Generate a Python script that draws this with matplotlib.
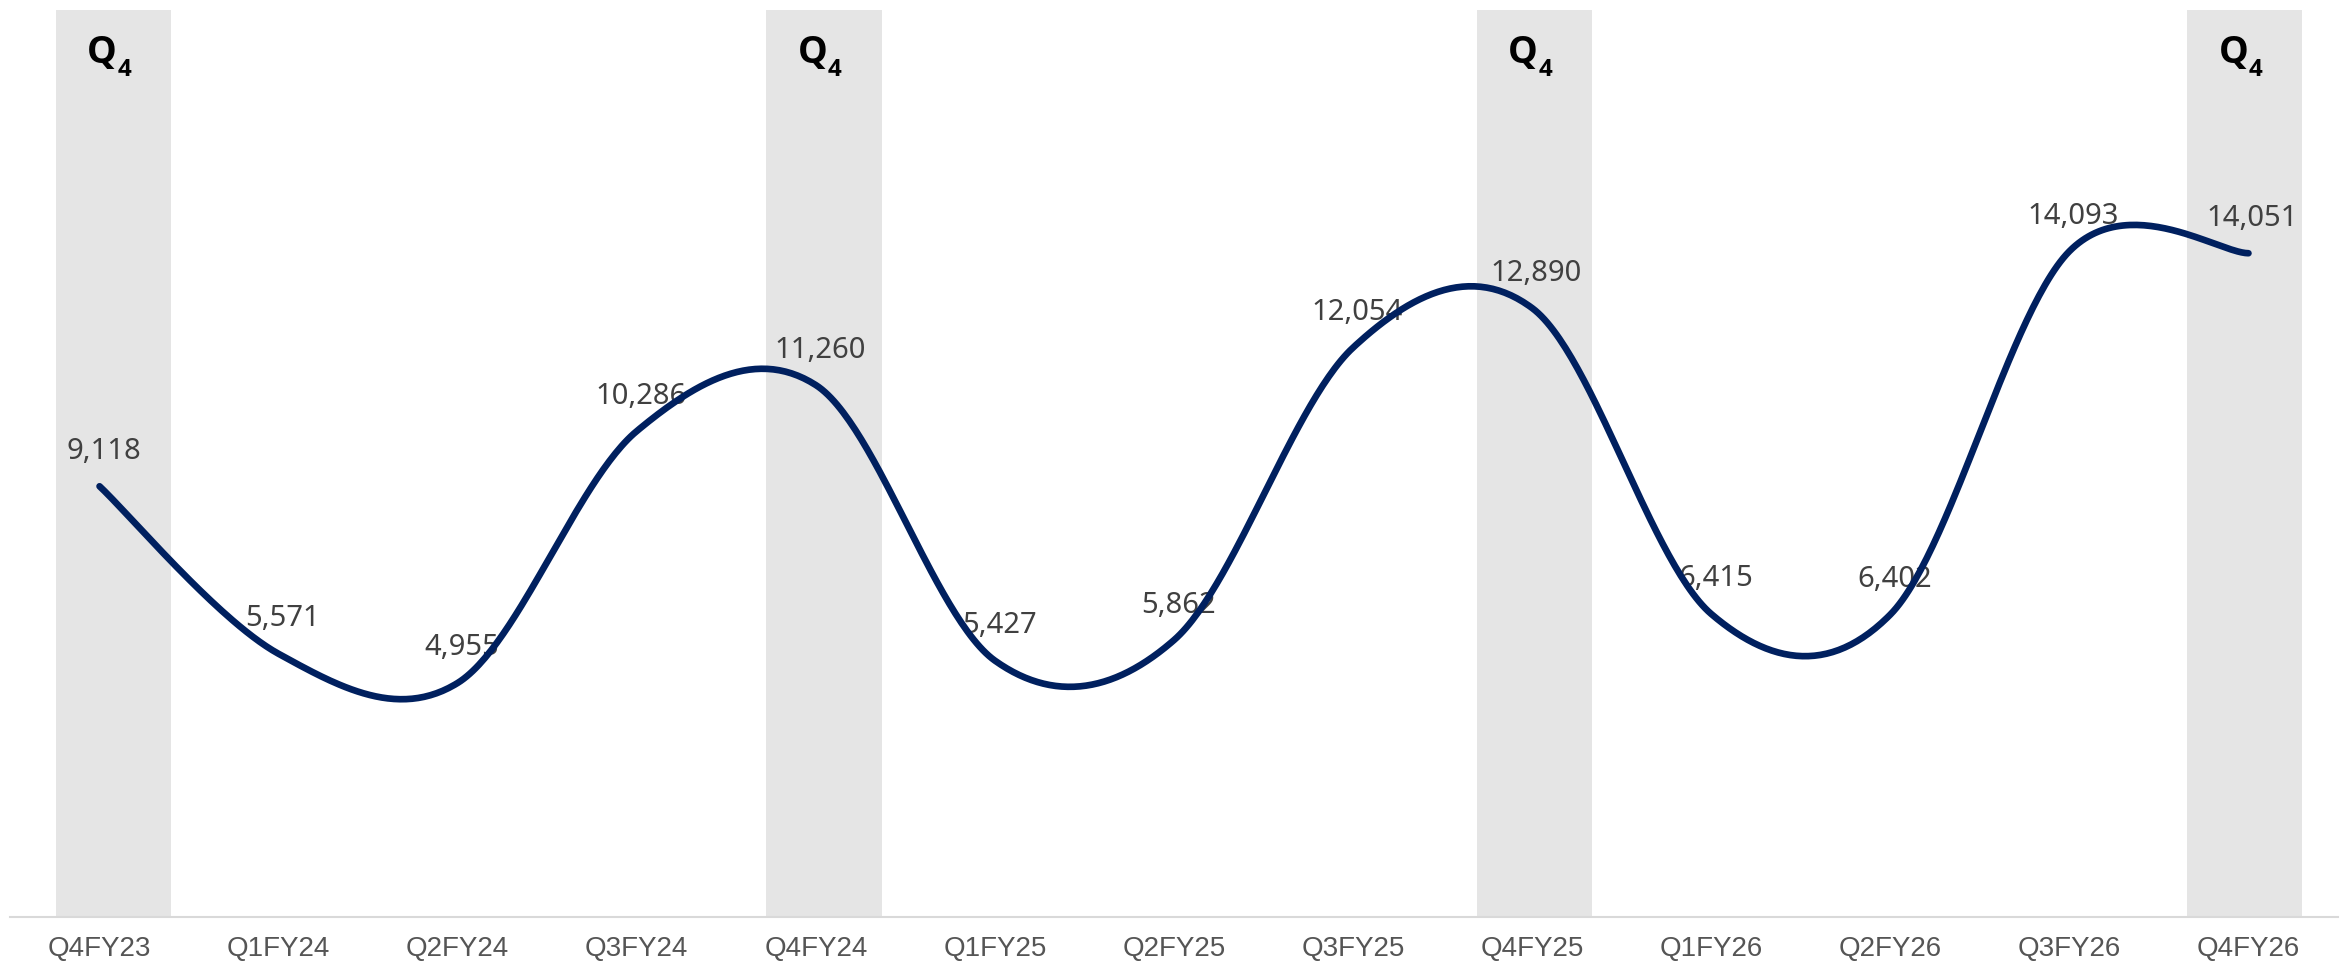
import numpy as np
import matplotlib
matplotlib.use('Agg')
import matplotlib.pyplot as plt
from matplotlib import font_manager

# ---------------- data ----------------
categories = ['Q4FY23', 'Q1FY24', 'Q2FY24', 'Q3FY24', 'Q4FY24', 'Q1FY25', 'Q2FY25',
              'Q3FY25', 'Q4FY25', 'Q1FY26', 'Q2FY26', 'Q3FY26', 'Q4FY26']
values = [9118, 5571, 4955, 10286, 11260, 5427, 5862, 12054, 12890, 6415, 6402, 14093, 14051]
q4_band = [1, 0, 0, 0, 1, 0, 0, 0, 1, 0, 0, 0, 1]
band_main = 'Q'
band_sub = '4'


def bold_family():
    for fam in ['Noto Sans', 'Open Sans', 'Lato', 'Roboto', 'Liberation Sans', 'DejaVu Sans']:
        try:
            path = font_manager.findfont(
                font_manager.FontProperties(family=fam, weight='bold'),
                fallback_to_default=False)
        except Exception:
            continue
        if 'bold' in path.lower():
            return fam
    return 'DejaVu Sans'


BOLD_FAM = bold_family()

# ---------------- figure ----------------
W, H = 2344, 974
fig = plt.figure(figsize=(W / 100, H / 100), dpi=100)
rect = [10 / W, (H - 917) / H, (2338 - 10) / W, (917 - 10) / H]

# background band axes
axb = fig.add_axes(rect, zorder=0)
axb.set_xlim(-0.583, 12.525)
axb.set_ylim(0, 1)
idx = np.arange(len(categories))
band_x = [i for i, f in zip(idx, q4_band) if f]
band_h = [f for f in q4_band if f]
axb.bar(band_x, band_h, width=0.65, color='#e5e5e5', linewidth=0)
for bx in band_x:
    axb.annotate(band_main, xy=(bx, 1), xytext=(2.5, -38.0), textcoords='offset points',
                 ha='right', va='baseline', fontsize=27, fontweight='bold', color='black',
                 family=[BOLD_FAM, 'DejaVu Sans'])
    axb.annotate(band_sub, xy=(bx, 1), xytext=(2.9, -47.5), textcoords='offset points',
                 ha='left', va='baseline', fontsize=17.5, fontweight='bold', color='black',
                 family=[BOLD_FAM, 'DejaVu Sans'])
axb.axis('off')

# main axes
ax = fig.add_axes(rect, zorder=1)
ax.patch.set_alpha(0)
ax.set_xlim(-0.5, 12.5)
ax.set_ylim(0, 19200)

# Excel-like smoothed line (Catmull-Rom Bezier)
P = np.column_stack([idx.astype(float), np.array(values, float)])
n = len(P)
xs, ys = [], []
t = np.linspace(0, 1, 60)
for i in range(n - 1):
    p_prev = P[i - 1] if i > 0 else P[i]
    p_next2 = P[i + 2] if i + 2 < n else P[i + 1]
    c1 = P[i] + (P[i + 1] - p_prev) / 6
    c2 = P[i + 1] - (p_next2 - P[i]) / 6
    b = ((1 - t) ** 3)[:, None] * P[i] + (3 * (1 - t) ** 2 * t)[:, None] * c1 \
        + (3 * (1 - t) * t ** 2)[:, None] * c2 + (t ** 3)[:, None] * P[i + 1]
    xs.extend(b[:, 0]); ys.extend(b[:, 1])
ax.plot(xs, ys, color='#00205f', lw=4.8, solid_capstyle='round', zorder=4)

for i, v in enumerate(values):
    ax.annotate(f'{v:,}', xy=(i, v), xytext=(3, 19.8), textcoords='offset points',
                ha='center', va='baseline', fontsize=21, color='#404040',
                family=['Noto Sans', 'DejaVu Sans'], zorder=3)

for s in ['top', 'left', 'right']:
    ax.spines[s].set_visible(False)
ax.spines['bottom'].set_color('#d9d9d9')
ax.spines['bottom'].set_linewidth(1.5)
ax.set_yticks([])
ax.set_xticks(idx)
ax.set_xticklabels(categories, family=['Liberation Sans', 'DejaVu Sans'])
ax.tick_params(axis='x', length=0, pad=14, labelsize=20, labelcolor='#555555')

fig.savefig('out.png', dpi=100, facecolor='white')
